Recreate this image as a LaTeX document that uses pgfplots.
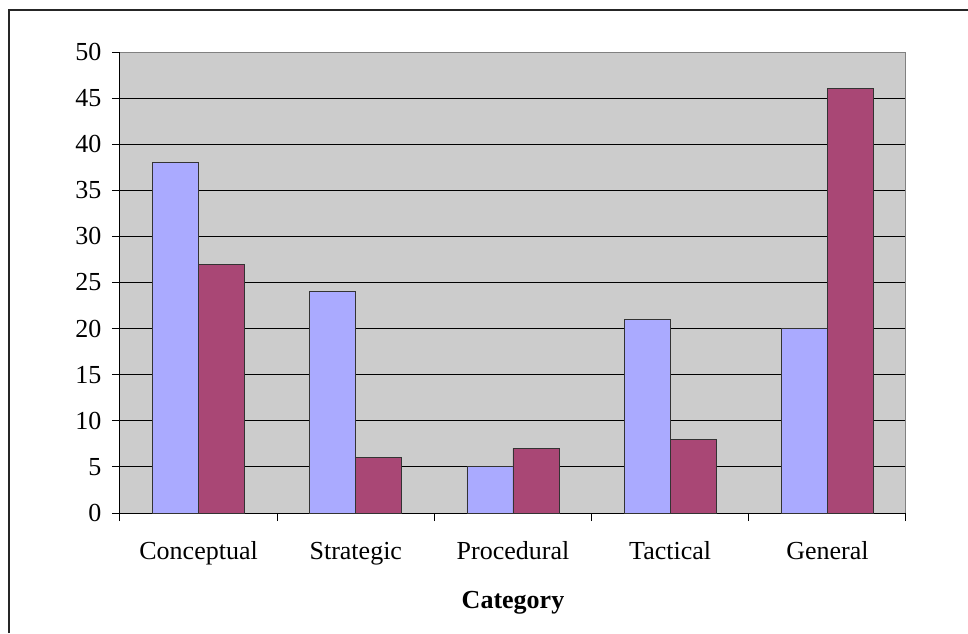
\documentclass[border=0pt]{standalone}
\usepackage{fontspec}
\setmainfont{Liberation Serif}
\usepackage{pgfplots}
\pgfplotsset{compat=1.18}
\definecolor{bgray}{RGB}{204,204,204}
\definecolor{sblue}{RGB}{170,170,255}
\definecolor{sred}{RGB}{169,71,117}
\begin{document}
\begin{tikzpicture}[x=1pt,y=1pt]
\useasboundingbox (0,0) rectangle (726,474.75);
\draw[line width=0.8pt,black!85] (6.75,0) -- (6.75,467.25) -- (726,467.25);
\begin{axis}[
  at={(90pt,90pt)}, anchor=south west,
  width=589.5pt, height=345.75pt, scale only axis,
  ybar=0pt, bar width=34.5pt,
  xmin=-0.5, xmax=4.5, ymin=0, ymax=50,
  axis lines=left, axis line style={-, black, line width=0.75pt},
  axis background/.style={fill=bgray},
  xtick={-0.5,0.5,1.5,2.5,3.5,4.5},
  xticklabels={Conceptual,Strategic,Procedural,Tactical,General},
  x tick label as interval,
  ytick={0,5,...,50},
  tick align=outside, major tick length=6pt,
  tick style={black, line width=0.75pt},
  ymajorgrids, grid style={black, line width=0.75pt},
  /pgf/number format/assume math mode=true,
  tick label style={font=\fontsize{19.5}{22}\selectfont},
  xticklabel style={yshift=-18pt, text depth=0.25em, text height=0.75em},
  yticklabel style={xshift=-4.5pt},
  xlabel={\textbf{Category}},
  xlabel style={font=\fontsize{19.5}{22}\selectfont, yshift=-14pt},
]
\addplot[fill=sblue, draw=black!80, line width=0.7pt] coordinates {(0,38) (1,24) (2,5) (3,21) (4,20)};
\addplot[fill=sred, draw=black!80, line width=0.7pt] coordinates {(0,27) (1,6) (2,7) (3,8) (4,46)};
\draw[gray, line width=0.9pt] (rel axis cs:0,1) -- (rel axis cs:1,1) -- (rel axis cs:1,0);
\end{axis}
\end{tikzpicture}
\end{document}
